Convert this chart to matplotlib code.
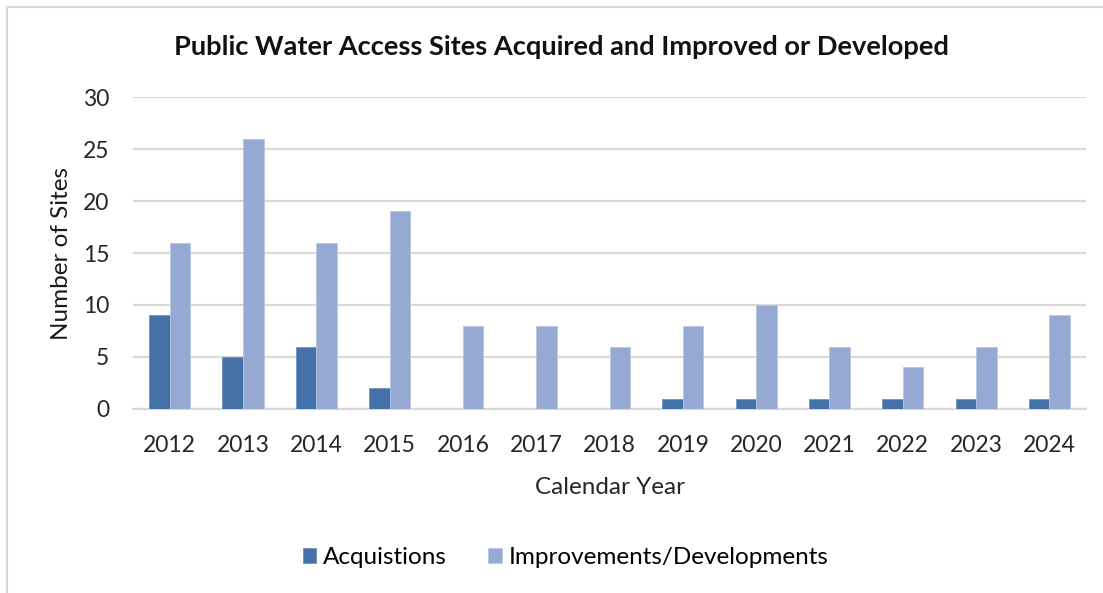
import numpy as np
import matplotlib.pyplot as plt
from matplotlib.patches import Rectangle

years = ['2012', '2013', '2014', '2015', '2016', '2017', '2018',
         '2019', '2020', '2021', '2022', '2023', '2024']
acquisitions = [9, 5, 6, 2, 0, 0, 0, 1, 1, 1, 1, 1, 1]
improvements = [16, 26, 16, 19, 8, 8, 6, 8, 10, 6, 4, 6, 9]

plt.rcParams['font.family'] = ['Lato', 'DejaVu Sans']

fig = plt.figure(figsize=(11.03, 5.93), dpi=100)
ax = fig.add_axes([0.1206, 0.3103, 0.8640, 0.5261])

x = np.arange(len(years))
w = 0.28
ax.bar(x - w / 2, acquisitions, w, color='#4472a8', edgecolor='#6f93c0',
       linewidth=0.6, label='Acquistions', zorder=3)
ax.bar(x + w / 2, improvements, w, color='#95a9d2', edgecolor='#b8c7e3',
       linewidth=0.6, label='Improvements/Developments', zorder=3)

ax.set_xlim(-0.5, len(years) - 0.5)
ax.set_ylim(0, 30)
ax.set_yticks(range(0, 31, 5))
ax.set_xticks(x)
ax.set_xticklabels(years)
ax.tick_params(length=0, labelsize=16.5, colors='#262626')
ax.tick_params(axis='x', pad=19)
ax.tick_params(axis='y', pad=17)
ax.yaxis.grid(True, color='#d9d9d9', linewidth=1.6, zorder=0)
for s in ['top', 'right', 'left']:
    ax.spines[s].set_visible(False)
ax.spines['bottom'].set_color('#d9d9d9')
ax.spines['bottom'].set_linewidth(1.6)

ax.set_ylabel('Number of Sites', fontsize=17.5, color='#1a1a1a', labelpad=8)
ax.set_xlabel('Calendar Year', fontsize=17.5, color='#262626', labelpad=15)

fig.text(0.509, 0.921, 'Public Water Access Sites Acquired and Improved or Developed',
         ha='center', va='center', fontsize=19.6, fontweight='bold', color='#111111')

fig.legend(loc='center', bbox_to_anchor=(0.513, 0.06), ncol=2, frameon=False,
           fontsize=17.5, handlelength=0.55, handleheight=0.55, columnspacing=1.7,
           handletextpad=0.3)

fig.patches.append(Rectangle((0.006, -0.01), 1.1, 0.998, transform=fig.transFigure,
                             fill=False, edgecolor='#d9d9d9', linewidth=1.5))

fig.savefig('out.png', dpi=100)
